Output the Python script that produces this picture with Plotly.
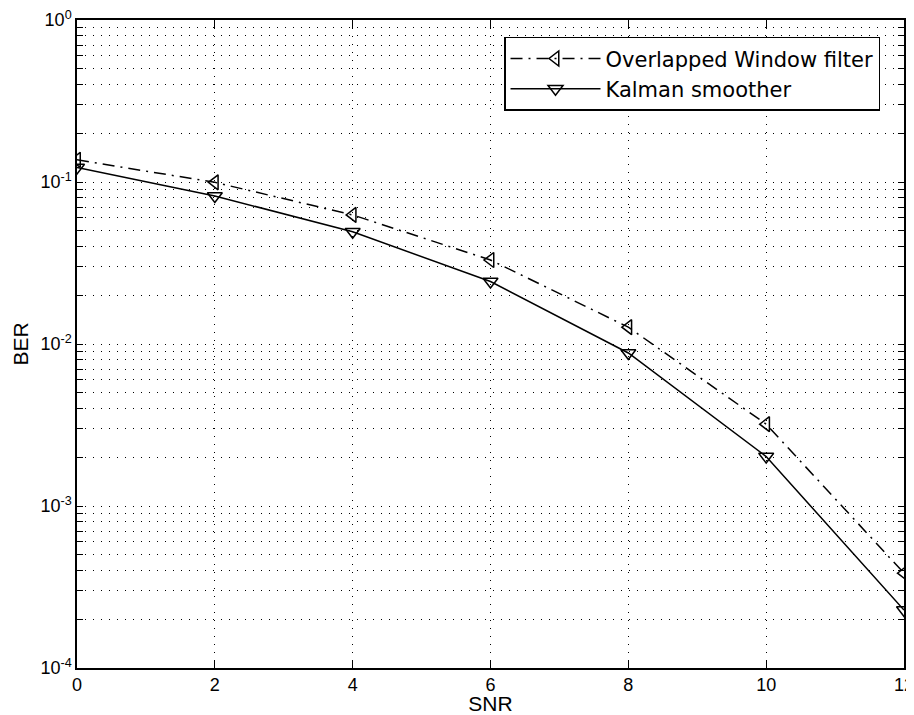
import plotly.graph_objects as go

snr = [0, 2, 4, 6, 8, 10, 12]
ber_overlapped = [0.137, 0.0995, 0.0626, 0.033, 0.0127, 0.0032, 0.000385]
ber_kalman = [0.123, 0.082, 0.0493, 0.0243, 0.0088, 0.00202, 0.000228]

x_ticks = [0, 2, 4, 6, 8, 10, 12]
decades = [-4, -3, -2, -1]

y_tickvals = []
y_ticktext = []
for d in decades:
    for m in range(1, 10):
        y_tickvals.append(m * 10 ** d)
        y_ticktext.append(f"10<sup>{d}</sup>" if m == 1 else "")
y_tickvals.append(1.0)
y_ticktext.append("10<sup>0</sup>")

font_family = "Liberation Sans, Arial, Helvetica, sans-serif"
legend_family = "DejaVu Sans, Liberation Sans, sans-serif"

fig = go.Figure()
fig.add_trace(go.Scatter(
    x=snr, y=ber_overlapped, mode="lines+markers",
    name="Overlapped Window filter",
    line=dict(color="black", width=1.5, dash="12px,6px,2px,6px"),
    marker=dict(symbol="triangle-left-open", size=13, color="black",
                line=dict(width=1.5, color="black")),
))
fig.add_trace(go.Scatter(
    x=snr, y=ber_kalman, mode="lines+markers",
    name="Kalman smoother",
    line=dict(color="black", width=1.5),
    marker=dict(symbol="triangle-down-open", size=13, color="black",
                line=dict(width=1.5, color="black")),
))

axis_common = dict(
    showline=True, linecolor="black", linewidth=1.5, mirror="allticks",
    ticks="inside", tickcolor="black", tickwidth=1,
    showgrid=True, gridcolor="black", gridwidth=1, griddash="1px,7px",
    zeroline=False, automargin=False, ticklabeloverflow="allow",
    tickfont=dict(family=font_family, size=18, color="black"),
)

fig.update_xaxes(
    range=[0, 12], tickvals=x_ticks, ticklen=8,
    title=dict(text="SNR", font=dict(family=font_family, size=21, color="black"), standoff=2),
    **axis_common,
)
fig.update_yaxes(
    type="log", range=[-4, 0], tickvals=y_tickvals, ticktext=y_ticktext, ticklen=6,
    title=dict(text="BER", font=dict(family=font_family, size=21, color="black"), standoff=6),
    **axis_common,
)

fig.update_layout(
    width=906, height=707,
    margin=dict(l=69, r=10, t=12, b=47),
    paper_bgcolor="white", plot_bgcolor="white",
    font=dict(family=font_family, color="black"),
    showlegend=True,
    legend=dict(
        x=0.971, y=0.974, xanchor="right", yanchor="top",
        bgcolor="white", bordercolor="black", borderwidth=1.5,
        font=dict(family=legend_family, size=21, color="black"),
        tracegroupgap=0, itemwidth=90,
    ),
)

fig.write_html("out.html")
